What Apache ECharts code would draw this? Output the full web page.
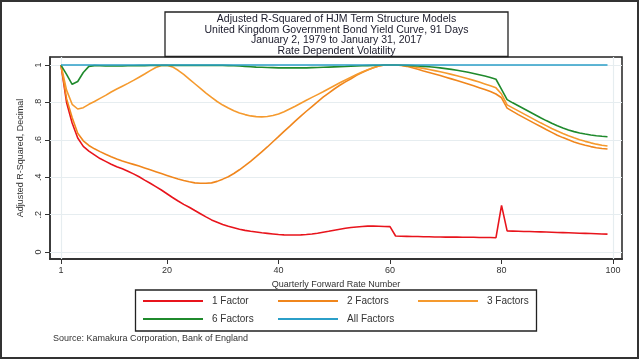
<!DOCTYPE html>
<html><head><meta charset="utf-8">
<script src="https://cdn.jsdelivr.net/npm/echarts@6/dist/echarts.min.js"></script>
<style>html,body{margin:0;padding:0;background:#fff}#c{width:640px;height:360px}</style>
</head><body><div id="c"></div>
<script>
const rateNumbers = [1,2,3,4,5,6,7,8,9,10,11,12,13,14,15,16,17,18,19,20,21,22,23,24,25,26,27,28,29,30,31,32,33,34,35,36,37,38,39,40,41,42,43,44,45,46,47,48,49,50,51,52,53,54,55,56,57,58,59,60,61,62,63,64,65,66,67,68,69,70,71,72,73,74,75,76,77,78,79,80,81,82,83,84,85,86,87,88,89,90,91,92,93,94,95,96,97,98,99];
const factor1 = [1.00,0.80,0.69,0.61,0.565,0.54,0.52,0.50,0.485,0.47,0.456,0.445,0.432,0.418,0.403,0.385,0.368,0.350,0.332,0.312,0.292,0.273,0.255,0.240,0.222,0.205,0.188,0.172,0.160,0.148,0.138,0.130,0.122,0.116,0.111,0.107,0.103,0.100,0.097,0.094,0.092,0.091,0.091,0.092,0.094,0.097,0.101,0.106,0.111,0.117,0.122,0.127,0.131,0.134,0.137,0.139,0.139,0.138,0.137,0.136,0.086,0.085,0.084,0.083,0.083,0.082,0.082,0.081,0.081,0.080,0.080,0.080,0.079,0.079,0.079,0.078,0.078,0.078,0.077,0.250,0.113,0.112,0.111,0.110,0.110,0.109,0.108,0.107,0.106,0.105,0.104,0.103,0.102,0.101,0.100,0.099,0.098,0.097,0.096];
const factors2 = [1.00,0.82,0.72,0.635,0.595,0.57,0.552,0.537,0.523,0.510,0.498,0.487,0.478,0.469,0.460,0.450,0.440,0.430,0.420,0.410,0.400,0.391,0.383,0.376,0.370,0.368,0.368,0.370,0.378,0.390,0.403,0.420,0.440,0.462,0.485,0.510,0.536,0.562,0.590,0.617,0.645,0.672,0.700,0.727,0.753,0.778,0.803,0.828,0.850,0.872,0.892,0.910,0.927,0.945,0.960,0.974,0.986,0.995,1.0,1.0,1.0,0.998,0.993,0.985,0.977,0.968,0.960,0.952,0.944,0.935,0.926,0.917,0.908,0.899,0.889,0.879,0.869,0.858,0.845,0.825,0.770,0.752,0.735,0.719,0.703,0.687,0.671,0.655,0.640,0.625,0.612,0.600,0.589,0.579,0.571,0.564,0.558,0.554,0.551];
const factors3 = [1.00,0.866,0.79,0.765,0.772,0.790,0.805,0.822,0.838,0.856,0.872,0.887,0.902,0.918,0.935,0.952,0.970,0.987,0.998,0.999,0.990,0.972,0.950,0.925,0.900,0.875,0.850,0.827,0.805,0.786,0.770,0.756,0.744,0.735,0.728,0.724,0.723,0.725,0.730,0.738,0.750,0.765,0.780,0.796,0.812,0.827,0.842,0.857,0.873,0.889,0.905,0.920,0.935,0.950,0.963,0.975,0.986,0.995,1.0,1.0,1.0,0.999,0.996,0.992,0.987,0.982,0.976,0.970,0.964,0.957,0.950,0.943,0.935,0.927,0.918,0.909,0.899,0.889,0.878,0.845,0.787,0.771,0.755,0.739,0.723,0.707,0.691,0.676,0.661,0.647,0.634,0.622,0.611,0.601,0.592,0.584,0.577,0.571,0.567];
const factors6 = [1.00,0.95,0.897,0.912,0.96,0.993,0.997,0.996,0.995,0.995,0.995,0.995,0.996,0.996,0.997,0.997,0.998,0.998,0.998,0.998,0.998,0.998,0.998,0.998,0.998,0.998,0.998,0.998,0.998,0.998,0.997,0.996,0.995,0.993,0.991,0.989,0.988,0.987,0.986,0.985,0.985,0.985,0.985,0.985,0.985,0.986,0.987,0.988,0.989,0.990,0.991,0.992,0.994,0.995,0.996,0.997,0.998,0.999,1.0,1.0,1.0,0.999,0.998,0.997,0.995,0.993,0.991,0.988,0.985,0.981,0.977,0.972,0.967,0.961,0.955,0.948,0.941,0.933,0.924,0.870,0.815,0.798,0.782,0.766,0.750,0.734,0.718,0.703,0.689,0.676,0.664,0.653,0.644,0.637,0.631,0.626,0.622,0.619,0.617];
const factorsAll = [1,1,1,1,1,1,1,1,1,1,1,1,1,1,1,1,1,1,1,1,1,1,1,1,1,1,1,1,1,1,1,1,1,1,1,1,1,1,1,1,1,1,1,1,1,1,1,1,1,1,1,1,1,1,1,1,1,1,1,1,1,1,1,1,1,1,1,1,1,1,1,1,1,1,1,1,1,1,1,1,1,1,1,1,1,1,1,1,1,1,1,1,1,1,1,1,1,1,1];
const xTicks = [1,20,40,60,80,100];
const yTicks = [0,0.2,0.4,0.6,0.8,1];
const seriesNames = ['1 Factor','2 Factors','3 Factors','6 Factors','All Factors'];
const titleLines = ['Adjusted R-Squared of HJM Term Structure Models','United Kingdom Government Bond Yield Curve, 91 Days','January 2, 1979 to January 31, 2017','Rate Dependent Volatility'];

const FONT = 'Liberation Sans, Arial, sans-serif';
const colors = ['#e8141c','#f0861c','#f59a2e','#1f8a2c','#2b9fc8'];
const values = [factor1,factors2,factors3,factors6,factorsAll];

const chart = echarts.init(document.getElementById('c'), null, {renderer:'canvas'});

const series = values.map((v,i)=>({
  name: seriesNames[i], type:'line', showSymbol:false, symbol:'none', z:3,
  data: v.map((y,k)=>[rateNumbers[k], y]),
  lineStyle:{color:colors[i], width:1.6}, itemStyle:{color:colors[i]}
}));
series.unshift({
  name:'grid', type:'line', data:[[1,0]], showSymbol:false, symbol:'none', z:1,
  lineStyle:{opacity:0}, silent:true,
  markLine:{silent:true, z:1, symbol:'none', label:{show:false}, animation:false,
    lineStyle:{color:'#e6edf0', width:1.2, type:'solid'},
    data: yTicks.map(t=>({yAxis:t})).concat([{xAxis:1},{xAxis:100}])}
});

const legendPos = [[143,295],[278,295],[418,295],[143,313],[278,313]];
const legends = seriesNames.map((n,i)=>({
  data:[n], left:legendPos[i][0], top:legendPos[i][1], padding:0,
  icon:'rect', itemWidth:60, itemHeight:2, selectedMode:false,
  textStyle:{fontFamily:FONT, fontSize:10, color:'#333', padding:[0,0,0,4], lineHeight:12}
}));

const gfx = [
  {type:'rect', shape:{x:1,y:1,width:637,height:357}, style:{fill:null, stroke:'#333', lineWidth:2}, z:0, silent:true},
  {type:'rect', shape:{x:50,y:57,width:572,height:202}, style:{fill:null, stroke:'#222', lineWidth:1.5}, z:0, silent:true},
  {type:'rect', shape:{x:165,y:12,width:343,height:44.5}, style:{fill:'#fff', stroke:'#222', lineWidth:1.3}, z:10, silent:true},
  {type:'rect', shape:{x:135.5,y:290,width:401,height:41}, style:{fill:null, stroke:'#222', lineWidth:1.3}, z:10, silent:true},
  {type:'text', x:53, y:339, style:{text:'Source: Kamakura Corporation, Bank of England', font:'9px '+FONT, fill:'#333', verticalAlign:'middle'}, z:11}
];
titleLines.forEach((t,i)=>{
  gfx.push({type:'text', x:336.5, y:19.5+i*10.5, style:{text:t, font:'10.5px '+FONT, fill:'#1a1a2a', align:'center', verticalAlign:'middle'}, z:11});
});

chart.setOption({
  animation:false,
  backgroundColor:'#fff',
  grid:{left:50, right:18, top:57, bottom:101, containLabel:false},
  xAxis:{type:'value', min:-0.97, max:101.6,
    name:'Quarterly Forward Rate Number', nameLocation:'middle', nameGap:20,
    nameTextStyle:{fontFamily:FONT, fontSize:9, color:'#333'},
    axisLine:{show:true, onZero:false, lineStyle:{color:'#333', width:2}},
    axisTick:{show:true, length:5, customValues:xTicks, lineStyle:{color:'#333', width:1}},
    axisLabel:{customValues:xTicks, fontFamily:FONT, fontSize:9, color:'#333', margin:7},
    splitLine:{show:false}},
  yAxis:{type:'value', min:-0.037, max:1.043,
    name:'Adjusted R-Squared, Decimal', nameLocation:'middle', nameGap:25, nameRotate:90,
    nameTextStyle:{fontFamily:FONT, fontSize:9, color:'#333'},
    axisLine:{show:true, onZero:false, lineStyle:{color:'#333', width:1.5}},
    axisTick:{show:true, length:5, customValues:yTicks, lineStyle:{color:'#333', width:1}},
    axisLabel:{customValues:yTicks, rotate:90, fontFamily:FONT, fontSize:9, color:'#333', margin:7,
      formatter:v=>{ if (Math.abs(v)<1e-9) return '0'; if (Math.abs(v-1)<1e-9) return '1'; return '.'+Math.round(v*10); }},
    splitLine:{show:false}},
  legend: legends,
  series: series,
  graphic: gfx
});
</script></body></html>
